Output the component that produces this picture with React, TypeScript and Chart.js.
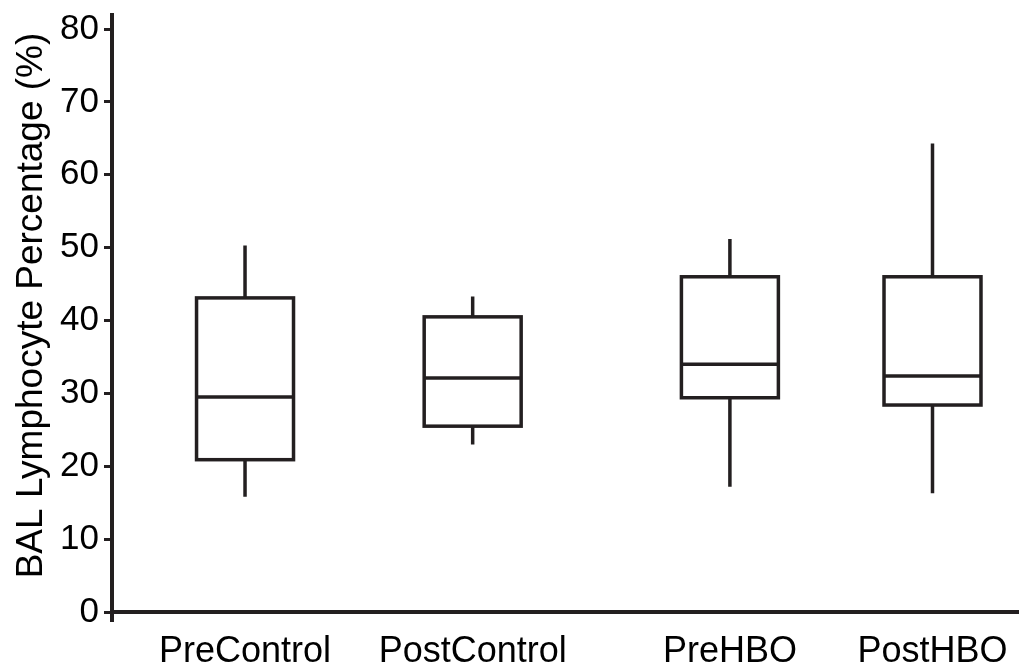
import React, { useEffect, useRef } from "react";
import { Chart, registerables } from "chart.js";

Chart.register(...registerables);

// BAL lymphocyte percentage per group (box-and-whisker summary)
const groups = ["PreControl", "PostControl", "PreHBO", "PostHBO"];
const whiskerLow = [15.8, 23.0, 17.2, 16.3];
const quartile1 = [20.9, 25.5, 29.4, 28.4];
const medians = [29.5, 32.1, 34.0, 32.4];
const quartile3 = [43.1, 40.5, 46.0, 46.0];
const whiskerHigh = [50.3, 43.3, 51.2, 64.3];
const yTicks = [0, 10, 20, 30, 40, 50, 60, 70, 80];
const yTitle = "BAL Lymphocyte Percentage (%)";

// horizontal slot of each group on the linear x scale
const slots = [1, 2, 3.13, 4.02];
const boxHalfWidth = 0.213;

const INK = "#231f20";
const FONT = "'Liberation Sans', Arial, Helvetica, sans-serif";

const boxPlotPlugin = {
  id: "boxPlotPlugin",
  afterDraw(chart: any) {
    const { ctx, chartArea, scales } = chart;
    const x = scales.x;
    const y = scales.y;
    ctx.save();
    ctx.strokeStyle = INK;
    ctx.lineCap = "butt";

    // axis lines
    ctx.lineWidth = 4;
    ctx.beginPath();
    ctx.moveTo(chartArea.left - 1, chartArea.top - 16);
    ctx.lineTo(chartArea.left - 1, chartArea.bottom + 10);
    ctx.stroke();
    ctx.beginPath();
    ctx.moveTo(chartArea.left - 3, y.getPixelForValue(0));
    ctx.lineTo(chartArea.right, y.getPixelForValue(0));
    ctx.stroke();

    // boxes, medians and whiskers
    ctx.lineWidth = 3.5;
    groups.forEach((_, i) => {
      const cx = x.getPixelForValue(slots[i]);
      const l = x.getPixelForValue(slots[i] - boxHalfWidth);
      const r = x.getPixelForValue(slots[i] + boxHalfWidth);
      const yLo = y.getPixelForValue(whiskerLow[i]);
      const yQ1 = y.getPixelForValue(quartile1[i]);
      const yMed = y.getPixelForValue(medians[i]);
      const yQ3 = y.getPixelForValue(quartile3[i]);
      const yHi = y.getPixelForValue(whiskerHigh[i]);

      ctx.beginPath();
      ctx.moveTo(cx, yHi);
      ctx.lineTo(cx, yQ3);
      ctx.moveTo(cx, yQ1);
      ctx.lineTo(cx, yLo);
      ctx.stroke();

      ctx.strokeRect(l, yQ3, r - l, yQ1 - yQ3);

      ctx.beginPath();
      ctx.moveTo(l, yMed);
      ctx.lineTo(r, yMed);
      ctx.stroke();
    });

    // category labels under the x axis
    ctx.fillStyle = "#000";
    ctx.font = `36px ${FONT}`;
    ctx.textAlign = "center";
    ctx.textBaseline = "alphabetic";
    groups.forEach((name, i) => {
      ctx.fillText(name, x.getPixelForValue(slots[i]), chartArea.bottom + 50);
    });

    // y-axis title
    ctx.font = `37px ${FONT}`;
    ctx.translate(42, (chartArea.top + chartArea.bottom) / 2 - 15);
    ctx.rotate(-Math.PI / 2);
    ctx.fillText(yTitle, 0, 0);
    ctx.restore();
  },
};

export default function App() {
  const canvasRef = useRef<HTMLCanvasElement | null>(null);

  useEffect(() => {
    const canvas = canvasRef.current;
    if (!canvas) return;
    const chart = new Chart(canvas, {
      type: "scatter",
      data: {
        datasets: [
          {
            label: "Median",
            data: groups.map((_, i) => ({ x: slots[i], y: medians[i] })),
            pointRadius: 0,
            showLine: false,
          },
        ],
      },
      options: {
        animation: false,
        responsive: false,
        devicePixelRatio: 1,
        layout: { padding: { top: 29, left: 0, right: 0, bottom: 0 } },
        plugins: {
          legend: { display: false },
          tooltip: { enabled: false },
          title: { display: false },
        },
        scales: {
          x: {
            type: "linear",
            min: 0.42,
            max: 4.4,
            afterBuildTicks: (scale: any) => {
              scale.ticks = slots.map((v) => ({ value: v }));
            },
            afterFit: (scale: any) => {
              scale.height = 56;
              scale.paddingLeft = 0;
              scale.paddingRight = 0;
            },
            grid: { display: false, drawTicks: false },
            border: { display: false },
            ticks: { display: false },
          },
          y: {
            type: "linear",
            min: 0,
            max: 80,
            afterBuildTicks: (scale: any) => {
              scale.ticks = yTicks.map((v) => ({ value: v }));
            },
            afterFit: (scale: any) => {
              scale.width = 113;
            },
            grid: {
              display: true,
              drawOnChartArea: false,
              drawTicks: true,
              tickLength: 9,
              tickWidth: 3,
              tickColor: INK,
            },
            border: { display: false },
            ticks: {
              padding: 5,
              color: "#000",
              font: { family: FONT, size: 35 },
            },
          },
        },
      },
      plugins: [boxPlotPlugin],
    });
    return () => chart.destroy();
  }, []);

  return (
    <div style={{ position: "absolute", left: 0, top: 0, width: 1019, height: 668, background: "#fff" }}>
      <canvas ref={canvasRef} width={1019} height={668} />
    </div>
  );
}
